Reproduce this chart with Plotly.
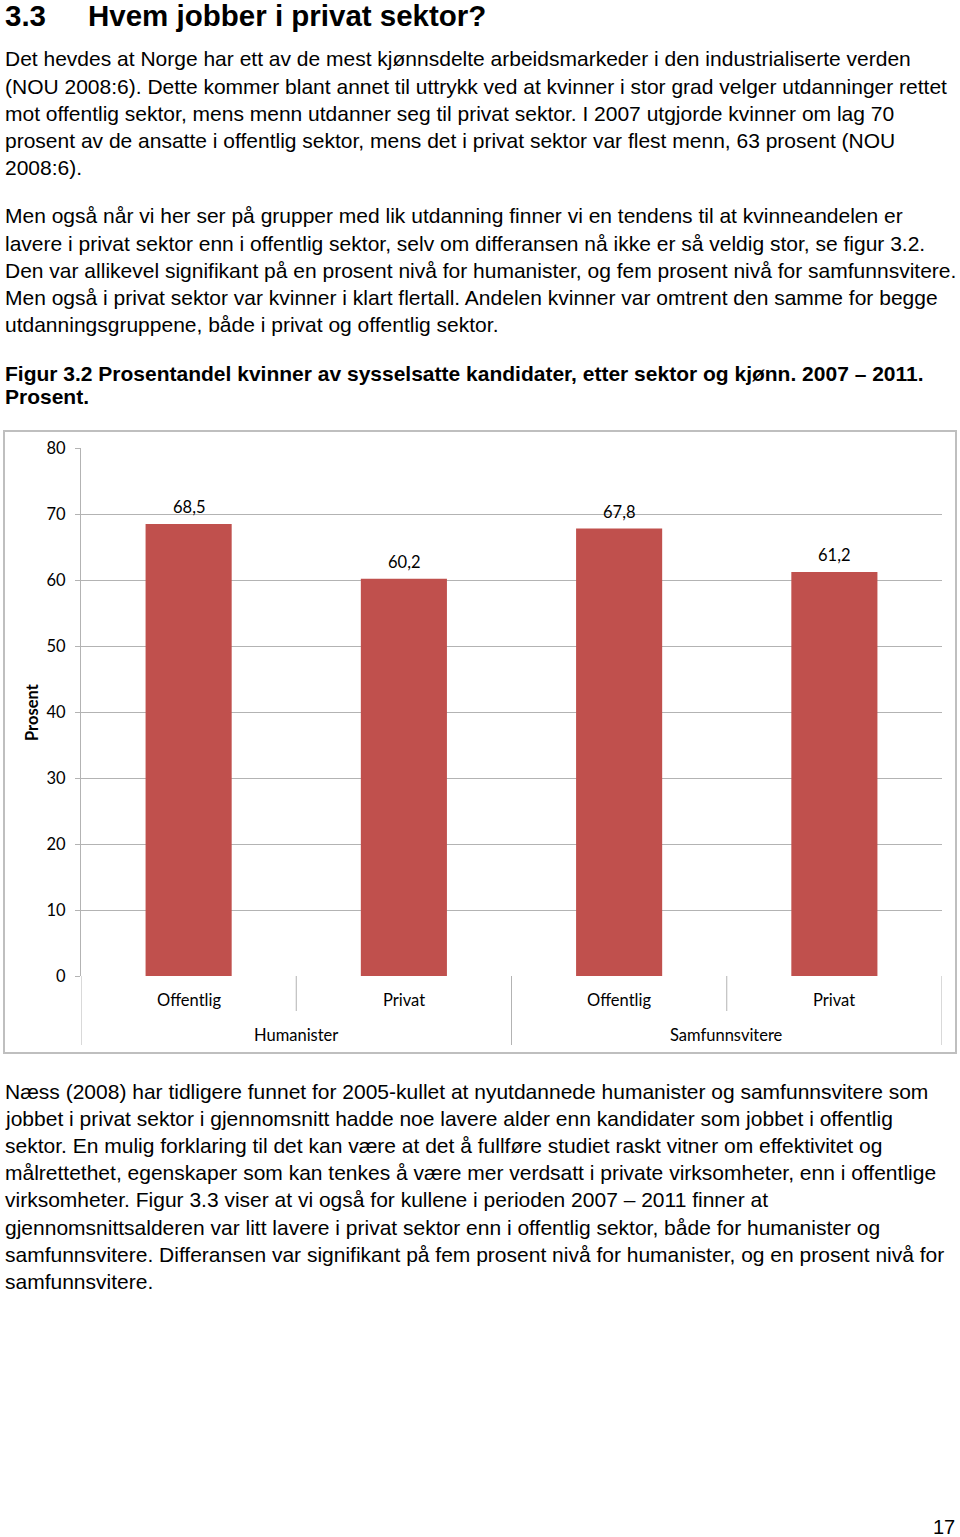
import plotly.graph_objects as go

# ---- data ----
groups = ["Humanister", "Samfunnsvitere"]
sectors = ["Offentlig", "Privat", "Offentlig", "Privat"]
values = [68.5, 60.2, 67.8, 61.2]
y_ticks = [0, 10, 20, 30, 40, 50, 60, 70, 80]

title_num = "3.3"
title_text = "Hvem jobber i privat sektor?"
para1 = [
    "Det hevdes at Norge har ett av de mest kjønnsdelte arbeidsmarkeder i den industrialiserte verden",
    "(NOU 2008:6). Dette kommer blant annet til uttrykk ved at kvinner i stor grad velger utdanninger rettet",
    "mot offentlig sektor, mens menn utdanner seg til privat sektor. I 2007 utgjorde kvinner om lag 70",
    "prosent av de ansatte i offentlig sektor, mens det i privat sektor var flest menn, 63 prosent (NOU",
    "2008:6).",
]
para2 = [
    "Men også når vi her ser på grupper med lik utdanning finner vi en tendens til at kvinneandelen er",
    "lavere i privat sektor enn i offentlig sektor, selv om differansen nå ikke er så veldig stor, se figur 3.2.",
    "Den var allikevel signifikant på en prosent nivå for humanister, og fem prosent nivå for samfunnsvitere.",
    "Men også i privat sektor var kvinner i klart flertall. Andelen kvinner var omtrent den samme for begge",
    "utdanningsgruppene, både i privat og offentlig sektor.",
]
caption = [
    "Figur 3.2 Prosentandel kvinner av sysselsatte kandidater, etter sektor og kjønn. 2007 – 2011.",
    "Prosent.",
]
para3 = [
    "Næss (2008) har tidligere funnet for 2005-kullet at nyutdannede humanister og samfunnsvitere som",
    "jobbet i privat sektor i gjennomsnitt hadde noe lavere alder enn kandidater som jobbet i offentlig",
    "sektor. En mulig forklaring til det kan være at det å fullføre studiet raskt vitner om effektivitet og",
    "målrettethet, egenskaper som kan tenkes å være mer verdsatt i private virksomheter, enn i offentlige",
    "virksomheter. Figur 3.3 viser at vi også for kullene i perioden 2007 – 2011 finner at",
    "gjennomsnittsalderen var litt lavere i privat sektor enn i offentlig sektor, både for humanister og",
    "samfunnsvitere. Differansen var signifikant på fem prosent nivå for humanister, og en prosent nivå for",
    "samfunnsvitere.",
]
page_no = "17"

# ---- layout geometry (pixels) ----
W, H = 960, 1537
PX0, PX1 = 81, 942         # plot area x
PY_TOP, PY_BOT = 448, 976  # plot area y (80 and 0)

def px(x):
    return (x - PX0) / (PX1 - PX0)

def py(y):
    return (PY_BOT - y) / (PY_BOT - PY_TOP)

BODY_FONT = "Liberation Sans, Arial, sans-serif"
CHART_FONT = "Lato, Carlito, Calibri, sans-serif"
CHART_SIZE = 16.5
GRID = "#b3b3b3"
BAR = "#C0504D"

xs = list(range(len(values)))

fig = go.Figure()
fig.add_trace(go.Bar(
    x=xs, y=values, width=0.4, marker=dict(color=BAR, line=dict(width=0)),
    hoverinfo="skip",
))

annotations = []
shapes = []

def text_line(s, x, y, size=21, bold=False, family=BODY_FONT, anchor="left"):
    annotations.append(dict(
        text=f"<b>{s}</b>" if bold else s, xref="paper", yref="paper",
        x=px(x), y=py(y), xanchor=anchor, yanchor="middle", showarrow=False,
        font=dict(family=family, size=size, color="#000"),
    ))

text_line(title_num, 3, 15, size=29.5, bold=True)
text_line(title_text, 86, 15, size=29.5, bold=True)
for i, s in enumerate(para1):
    text_line(s, 3, 59 + 27.1 * i)
for i, s in enumerate(para2):
    text_line(s, 3, 216 + 27.1 * i)
text_line(caption[0], 3, 373, bold=True)
text_line(caption[1], 3, 397, bold=True)
for i, s in enumerate(para3):
    text_line(s, 3, 1091 + 27.2 * i)
text_line(page_no, 957, 1527, size=20, anchor="right")

# bar value labels
for i, v in enumerate(values):
    annotations.append(dict(
        text=f"{v:.1f}".replace(".", ","), xref="x", yref="y", x=xs[i], y=v,
        xanchor="center", yanchor="bottom", yshift=5, showarrow=False,
        font=dict(family=CHART_FONT, size=CHART_SIZE, color="#000"),
    ))

# y axis title
annotations.append(dict(
    text="<b>Prosent</b>", xref="paper", yref="paper", x=px(32), y=py(712),
    xanchor="center", yanchor="middle", textangle=-90, showarrow=False,
    font=dict(family=CHART_FONT, size=CHART_SIZE, color="#000"),
))

# category labels
for i, s in enumerate(sectors):
    annotations.append(dict(
        text=s, xref="x", yref="paper", x=xs[i], y=py(1000),
        xanchor="center", yanchor="middle", showarrow=False,
        font=dict(family=CHART_FONT, size=CHART_SIZE, color="#000"),
    ))
for g, name in enumerate(groups):
    annotations.append(dict(
        text=name, xref="x", yref="paper", x=2 * g + 0.5, y=py(1035),
        xanchor="center", yanchor="middle", showarrow=False,
        font=dict(family=CHART_FONT, size=CHART_SIZE, color="#000"),
    ))

# category separators
for k in range(len(values) + 1):
    bottom = 1045 if k % 2 == 0 else 1011
    shapes.append(dict(type="line", xref="x", yref="paper",
                       x0=k - 0.5, x1=k - 0.5, y0=py(976), y1=py(bottom),
                       line=dict(color=GRID, width=1)))

# outer chart border
shapes.append(dict(type="rect", xref="paper", yref="paper",
                   x0=px(4), x1=px(956), y0=py(431), y1=py(1053),
                   line=dict(color="#bfbfbf", width=2), layer="below"))

fig.update_layout(
    width=W, height=H,
    margin=dict(l=PX0, r=W - PX1, t=PY_TOP, b=H - PY_BOT, pad=0),
    paper_bgcolor="white", plot_bgcolor="white",
    showlegend=False,
    xaxis=dict(range=[-0.5, len(values) - 0.5], showticklabels=False,
               showgrid=False, zeroline=False, showline=False, fixedrange=True),
    yaxis=dict(range=[0, 80], tickvals=y_ticks, showgrid=True, gridcolor=GRID,
               gridwidth=1, zeroline=False, showline=True, linecolor=GRID,
               linewidth=1, ticks="outside", ticklen=5, tickcolor=GRID,
               ticklabelstandoff=6,
               tickfont=dict(family=CHART_FONT, size=CHART_SIZE, color="#000")),
    annotations=annotations, shapes=shapes,
)

fig.write_html("out.html", config={"displayModeBar": False},
               post_script="document.body.style.margin='0';document.body.style.overflow='hidden';")
